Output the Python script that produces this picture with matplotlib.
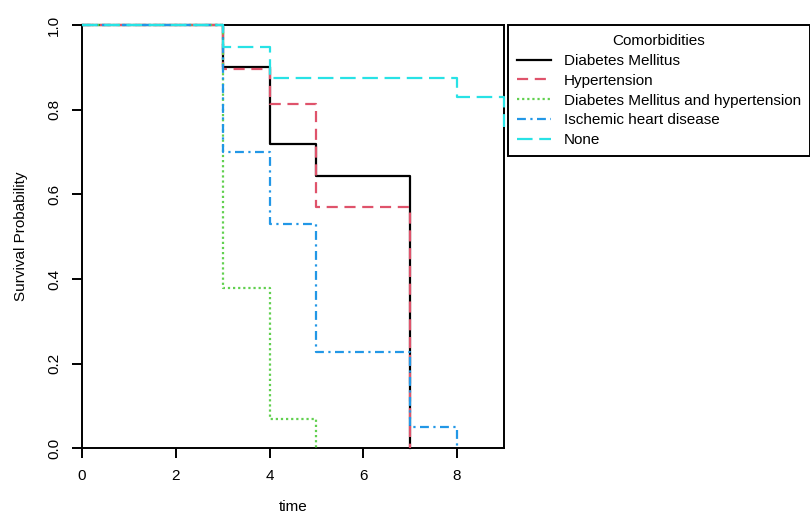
import numpy as np
import matplotlib
matplotlib.use('Agg')
import matplotlib.pyplot as plt

plt.rcParams['font.family'] = ['Liberation Sans', 'DejaVu Sans']

# Kaplan-Meier step data
groups = ['Diabetes Mellitus', 'Hypertension',
          'Diabetes Mellitus and hypertension', 'Ischemic heart disease', 'None']

t_dm = [0, 3, 4, 5, 7]
s_dm = [1.0, 0.90, 0.72, 0.644, 0.0]

t_ht = [0, 3, 4, 5, 7]
s_ht = [1.0, 0.895, 0.813, 0.571, 0.0]

t_dmht = [0, 3, 4, 5]
s_dmht = [1.0, 0.379, 0.069, 0.0]

t_ihd = [0, 3, 4, 5, 7, 8]
s_ihd = [1.0, 0.70, 0.53, 0.227, 0.051, 0.0]

t_none = [0, 3, 4, 8, 9]
s_none = [1.0, 0.947, 0.874, 0.83, 0.76]

colors = ['#000000', '#DF536B', '#61D04F', '#2297E6', '#28E2E5']
styles = ['-', (0, (5, 3)), (0, (1, 1.3)), (0, (4, 2, 1, 2)), (0, (7, 3))]

fig = plt.figure(figsize=(8.1, 5.17), dpi=100)
ax = fig.add_axes([82/810, 1 - 448.3/517, (504-82)/810, (448.3-25)/517])

series = [(t_dm, s_dm), (t_ht, s_ht), (t_dmht, s_dmht), (t_ihd, s_ihd), (t_none, s_none)]
for (t, s), c, ls, lab in zip(series, colors, styles, groups):
    ax.step(t, s, where='post', color=c, ls=ls, lw=1.6, label=lab, clip_on=False, zorder=3)

ax.set_xlim(0, 9)
ax.set_ylim(0, 1)
ax.set_xticks([0, 2, 4, 6, 8])
ax.set_yticks(np.arange(0, 1.01, 0.2))
ax.set_yticklabels([f'{v:.1f}' for v in np.arange(0, 1.01, 0.2)], rotation=90, va='center')
ax.tick_params(direction='out', length=7, width=1.4, labelsize=11, pad=8)
for sp in ax.spines.values():
    sp.set_linewidth(1.4)

ax.set_xlabel('time', fontsize=11, labelpad=12)
ax.set_ylabel('Survival Probability', fontsize=11, labelpad=14)

leg = ax.legend(title='Comorbidities', loc='upper left',
                bbox_to_anchor=(508/810, 1 - 25/517), bbox_transform=fig.transFigure,
                fontsize=11, title_fontsize=11, frameon=True, fancybox=False,
                edgecolor='black', framealpha=1, borderaxespad=0,
                handlelength=2.2, handletextpad=0.85, labelspacing=0.38, borderpad=0.6)
leg.get_frame().set_linewidth(1.4)

fig.savefig('out.png', dpi=100)
